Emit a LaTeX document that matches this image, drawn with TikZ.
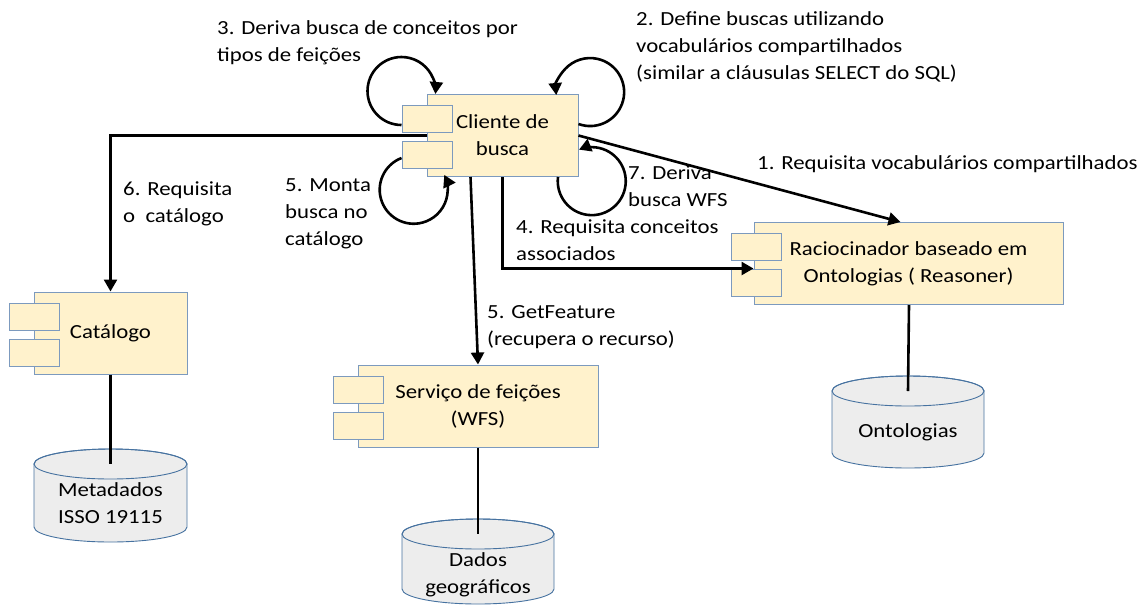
\documentclass[tikz,border=0pt]{standalone}
\usepackage{fontspec}
\setmainfont{Carlito}[FakeStretch=1.14]
\usetikzlibrary{arrows.meta,calc}
\definecolor{boxfill}{RGB}{255,242,204}
\definecolor{boxline}{RGB}{124,154,190}
\definecolor{dbfill}{RGB}{237,237,237}
\definecolor{dbline}{RGB}{70,114,160}
\newcommand\txtlines[1]{\begin{tabular}[t]{@{}l@{}}#1\end{tabular}}
\newcommand\ctrlines[1]{\begin{tabular}[t]{@{}c@{}}#1\end{tabular}}
\newcommand\dbshape[4]{%
  \filldraw[fill=dbfill,draw=dbline,line width=0.9pt] (#1-#4,#2+15) -- (#1-#4,#3-15)
    arc[start angle=180,end angle=360,x radius=#4pt,y radius=15pt]
    -- (#1+#4,#2+15)
    arc[start angle=0,end angle=180,x radius=#4pt,y radius=15pt] -- cycle;
  \draw[draw=dbline,line width=0.9pt] (#1,#2+15) ellipse[x radius=#4pt,y radius=15pt];
}
\begin{document}
\begin{tikzpicture}[x=1pt,y=-1pt,
  every node/.style={font=\fontsize{20}{27}\selectfont, inner sep=0pt},
  comp/.style={draw=boxline, fill=boxfill, line width=1pt, minimum width=#1, minimum height=82pt, align=center},
  port/.style={draw=boxline, fill=boxfill, line width=1pt, minimum width=50pt, minimum height=27pt},
  dbbox/.style={minimum width=#1, minimum height=93pt},
  arr/.style={line width=2.6pt, -{Triangle[width=13pt,length=12pt]}},
  conn/.style={line width=2.6pt},
  lbl/.style={anchor=base west}
]
\useasboundingbox (0,0) rectangle (1148,606);

% components
\node[comp=151pt] (cli) at (502.5,135.5) {Cliente de\\busca};
\node[port] (clip1) at (427,119) {};
\node[port] (clip2) at (427,155) {};

\node[comp=153pt] (cat) at (110.5,333) {Catálogo};
\node[port] (catp1) at (34,316.5) {};
\node[port] (catp2) at (34,352.5) {};

\node[comp=309pt] (rac) at (908.5,263.5) {Raciocinador baseado em\\Ontologias ( Reasoner)};
\node[port] (racp1) at (756,247) {};
\node[port] (racp2) at (756,283) {};

\node[comp=240pt] (wfs) at (478,406) {Serviço de feições\\(WFS)};
\node[port] (wfsp1) at (358,389.5) {};
\node[port] (wfsp2) at (358,425.5) {};

% databases
\dbshape{110.5}{449}{542}{76.5}
\node[dbbox=153pt] (meta) at (110.5,495.5) {};
\coordinate (metatop) at (110.5,464);
\node[anchor=base] (metatxt) at (110.5,496) {\ctrlines{Metadados\\ISSO 19115}};

\dbshape{478}{519}{604}{76}
\node[dbbox=152pt] (dados) at (478,561.5) {};
\coordinate (dadostop) at (478,534);
\node[anchor=base] (dadostxt) at (478,566) {\ctrlines{Dados\\geográficos}};

\dbshape{908}{376}{468}{76}
\node[dbbox=152pt] (onto) at (908,422) {};
\coordinate (ontotop) at (908,391);
\node[anchor=base] (ontotxt) at (908,437) {Ontologias};

% connectors
\draw[conn] (cat.south) -- (metatop);
\draw[conn] (wfs.south) -- (dadostop);
\draw[conn] ([xshift=0.5pt]rac.south) -- (ontotop);

\draw[arr] (cli.west) -| (cat.north);
\draw[arr] (cli.east) -- ([xshift=-8pt]rac.north);
\draw[arr] (cli.south) |- ([yshift=-5pt]rac.west);
\draw[arr] ([xshift=-32pt]cli.south) -- (wfs.north);

% self loops
\draw[arr] ([yshift=-6pt]clip1.west) arc[start angle=270,end angle=-5,radius=34pt];
\draw[arr] ([yshift=11.5pt]cli.east) arc[start angle=250,end angle=545,radius=34pt];
\draw[arr] ([yshift=-3pt]clip2.west) arc[start angle=111,end angle=386,radius=34pt];
\draw[arr] ([xshift=55.5pt]cli.south) arc[start angle=173,end angle=472,radius=34pt];

% labels
\node[lbl] (l3) at (217,34) {\txtlines{3. Deriva busca de conceitos por\\tipos de feições}};
\node[lbl] (l2) at (636,25) {\txtlines{2. Define buscas utilizando\\vocabulários compartilhados\\(similar a cláusulas SELECT do SQL)}};
\node[lbl] (l1) at (757,169) {1. Requisita vocabulários compartilhados};
\node[lbl] (l7) at (628,179) {\txtlines{7. Deriva\\busca WFS}};
\node[lbl] (l4) at (516,233) {\txtlines{4. Requisita conceitos\\associados}};
\node[lbl] (l6) at (123,195) {\txtlines{6. Requisita\\o~ catálogo}};
\node[lbl] (l5a) at (285,191) {\txtlines{5. Monta\\busca no\\catálogo}};
\node[lbl] (l5b) at (487,318) {\txtlines{5. GetFeature\\(recupera o recurso)}};
\end{tikzpicture}
\end{document}
